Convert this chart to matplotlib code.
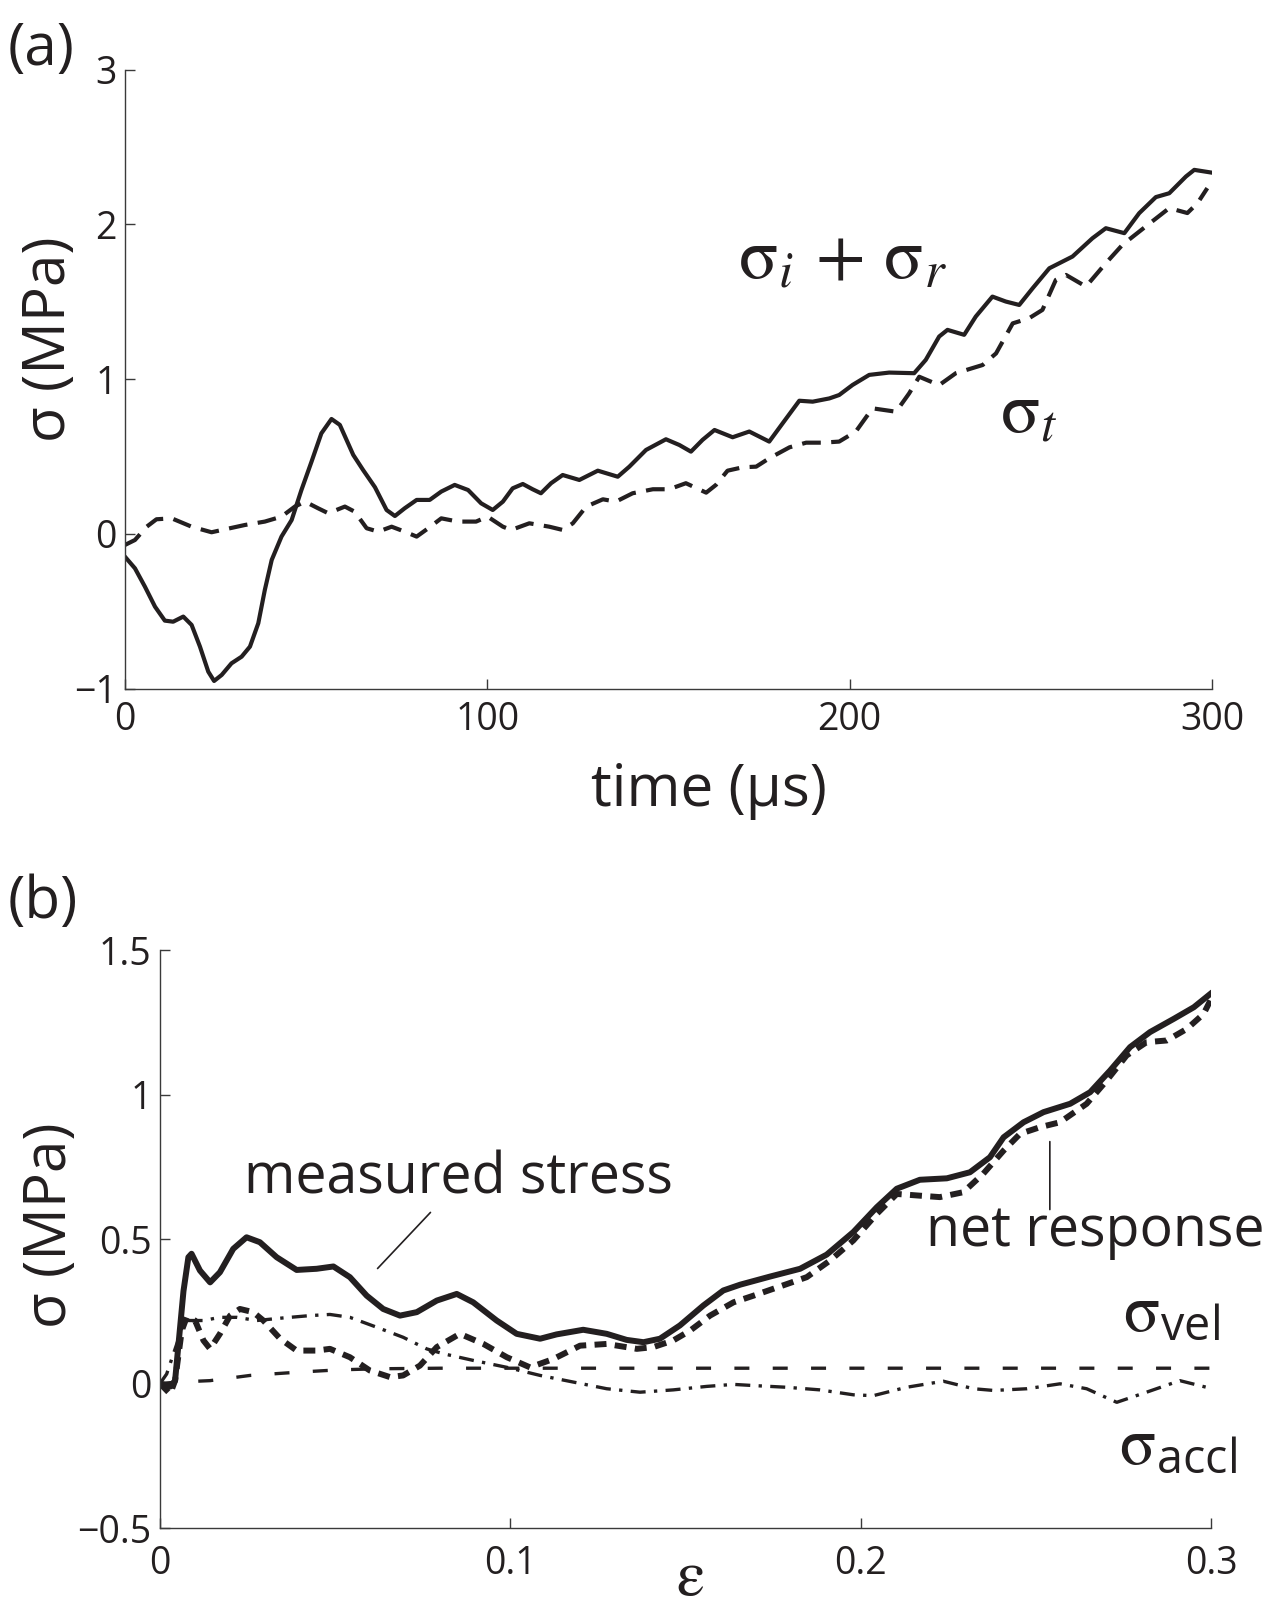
import matplotlib
matplotlib.use('Agg')
import matplotlib.pyplot as plt

# ---------------- data: panel (a) ----------------
t_sum = [0, 2.76, 5.5, 8.3, 11.0, 13.3, 16.1, 18.4, 20.7, 23.0, 24.6, 26.7, 29.4, 32.2, 34.5,
         36.8, 38.6, 40.5, 43.2, 46.0, 48.7, 51.5, 54.2, 57.0, 59.3, 63.0, 65.7, 69.0, 72.2,
         74.5, 77.2, 80.5, 84.1, 87.3, 91.0, 94.7, 98.3, 101.5, 104.3, 107.0, 109.8, 112.5,
         114.8, 117.6, 120.8, 125.4, 130.5, 136.0, 139.2, 143.8, 149.3, 153.0, 156.2, 159.4,
         162.7, 167.7, 172.3, 177.8, 181.5, 186.1, 189.8, 194.4, 197.1, 200.8, 205.4, 210.9,
         217.8, 221.0, 224.7, 227.0, 231.6, 234.8, 239.4, 243.1, 246.8, 250.5, 255.1, 261.5,
         267.0, 270.7, 275.8, 279.9, 284.5, 288.2, 292.8, 295.1, 299.7]
s_sum = [-0.147, -0.222, -0.34, -0.47, -0.56, -0.567, -0.534, -0.588, -0.728, -0.890, -0.95,
         -0.911, -0.836, -0.793, -0.728, -0.577, -0.362, -0.168, -0.017, 0.090, 0.284, 0.468,
         0.650, 0.743, 0.705, 0.511, 0.414, 0.302, 0.155, 0.116, 0.166, 0.220, 0.220, 0.274,
         0.317, 0.284, 0.198, 0.155, 0.209, 0.295, 0.323, 0.289, 0.263, 0.328, 0.381, 0.349,
         0.409, 0.370, 0.435, 0.543, 0.612, 0.575, 0.532, 0.608, 0.672, 0.625, 0.662, 0.597,
         0.715, 0.861, 0.855, 0.876, 0.898, 0.963, 1.028, 1.043, 1.039, 1.125, 1.276, 1.319,
         1.287, 1.405, 1.534, 1.502, 1.480, 1.588, 1.717, 1.793, 1.911, 1.976, 1.944, 2.073,
         2.177, 2.202, 2.310, 2.353, 2.336]

t_trans = [0, 2.76, 6.0, 8.7, 12.9, 18.4, 23.9, 27.6, 33.1, 38.6, 43.2, 46.9, 49.7, 53.3,
           56.1, 60.7, 63.4, 66.7, 69.9, 73.6, 77.2, 80.5, 83.7, 87.3, 91.9, 96.9, 100.1,
           104.3, 106.6, 111.6, 117.1, 120.8, 123.6, 127.3, 131.9, 135.5, 140.1, 145.7, 150.2,
           154.8, 160.4, 163.1, 166.3, 170.5, 174.2, 177.8, 183.4, 188.0, 192.5, 197.1, 201.7,
           206.3, 212.8, 216.4, 219.2, 224.7, 229.3, 236.7, 240.4, 245.0, 249.5, 253.2, 256.9,
           259.7, 265.2, 270.7, 275.3, 281.7, 288.2, 293.2, 296.0, 298.7]
s_trans = [-0.071, -0.039, 0.047, 0.095, 0.101, 0.047, 0.011, 0.030, 0.058, 0.080, 0.112,
           0.177, 0.209, 0.166, 0.134, 0.177, 0.144, 0.037, 0.015, 0.047, 0.015, -0.017,
           0.037, 0.101, 0.080, 0.080, 0.112, 0.047, 0.026, 0.069, 0.047, 0.026, 0.069, 0.177,
           0.224, 0.209, 0.263, 0.289, 0.289, 0.328, 0.267, 0.317, 0.409, 0.431, 0.435, 0.489,
           0.560, 0.590, 0.590, 0.597, 0.662, 0.812, 0.790, 0.908, 1.016, 0.962, 1.039, 1.092,
           1.167, 1.361, 1.394, 1.448, 1.642, 1.674, 1.599, 1.750, 1.869, 1.987, 2.106, 2.074,
           2.138, 2.235]

a_xticks = [0, 100, 200, 300]
a_xticklabels = ['0', '100', '200', '300']
a_yticks = [-1, 0, 1, 2, 3]
a_yticklabels = ['\u22121', '0', '1', '2', '3']

# ---------------- data: panel (b) ----------------
e_meas = [0, 0.003, 0.0043, 0.0052, 0.0067, 0.0081, 0.009, 0.0114, 0.0143, 0.0171, 0.0209,
          0.0247, 0.0285, 0.0333, 0.039, 0.0447, 0.0495, 0.0542, 0.059, 0.0637, 0.0685,
          0.0733, 0.079, 0.0847, 0.0894, 0.0961, 0.1018, 0.1085, 0.1132, 0.1208, 0.1275,
          0.1332, 0.138, 0.1427, 0.1484, 0.1551, 0.1608, 0.1656, 0.1741, 0.1827, 0.1903,
          0.1979, 0.2046, 0.2103, 0.2169, 0.2246, 0.2312, 0.2369, 0.2408, 0.2465, 0.2522,
          0.2598, 0.2655, 0.2712, 0.2769, 0.2826, 0.2894, 0.2951, 0.2998]
s_meas = [0.0, -0.01, 0.01, 0.126, 0.32, 0.437, 0.449, 0.391, 0.35, 0.385, 0.466, 0.506,
          0.489, 0.437, 0.393, 0.397, 0.405, 0.368, 0.304, 0.258, 0.235, 0.247, 0.287, 0.310,
          0.281, 0.218, 0.172, 0.155, 0.170, 0.186, 0.172, 0.151, 0.143, 0.155, 0.201, 0.270,
          0.322, 0.342, 0.370, 0.397, 0.446, 0.524, 0.610, 0.674, 0.705, 0.710, 0.731, 0.783,
          0.852, 0.904, 0.939, 0.968, 1.008, 1.083, 1.164, 1.216, 1.262, 1.302, 1.348]

e_net = [0, 0.0029, 0.0043, 0.0062, 0.0076, 0.01, 0.0124, 0.0143, 0.0171, 0.02, 0.0228,
         0.0266, 0.0295, 0.0343, 0.039, 0.0447, 0.0485, 0.0542, 0.0599, 0.0657, 0.0694,
         0.0742, 0.079, 0.0856, 0.0923, 0.099, 0.1056, 0.1123, 0.1199, 0.1275, 0.1361,
         0.1408, 0.1465, 0.1513, 0.157, 0.1637, 0.1694, 0.177, 0.1846, 0.1913, 0.1979,
         0.2046, 0.2103, 0.2169, 0.2226, 0.2293, 0.235, 0.2408, 0.2455, 0.2512, 0.2569,
         0.2645, 0.2702, 0.2759, 0.2816, 0.2874, 0.2931, 0.2979, 0.2998]
s_net = [0.0, -0.036, 0.01, 0.183, 0.229, 0.218, 0.149, 0.12, 0.172, 0.235, 0.258, 0.247,
         0.218, 0.155, 0.114, 0.114, 0.12, 0.091, 0.045, 0.022, 0.028, 0.062, 0.126, 0.172,
         0.137, 0.091, 0.056, 0.085, 0.131, 0.137, 0.12, 0.126, 0.149, 0.183, 0.235, 0.281,
         0.304, 0.336, 0.368, 0.426, 0.495, 0.587, 0.656, 0.650, 0.645, 0.662, 0.726, 0.806,
         0.864, 0.887, 0.904, 0.968, 1.048, 1.135, 1.181, 1.187, 1.227, 1.279, 1.325]

e_vel = [0, 0.005, 0.0143, 0.0257, 0.039, 0.0504, 0.0618, 0.08, 0.3]
s_vel = [0.0, 0.005, 0.01, 0.028, 0.039, 0.047, 0.051, 0.053, 0.053]

e_accl = [0, 0.0019, 0.0067, 0.0076, 0.0124, 0.0171, 0.0219, 0.0276, 0.0352, 0.0428,
          0.0485, 0.0542, 0.0618, 0.0694, 0.0761, 0.0809, 0.0894, 0.099, 0.1085, 0.118,
          0.1275, 0.137, 0.1465, 0.156, 0.1637, 0.1694, 0.1789, 0.1884, 0.1979, 0.2036,
          0.2131, 0.2236, 0.2322, 0.238, 0.2475, 0.2569, 0.2645, 0.2731, 0.2816, 0.2911,
          0.2987]
s_accl = [0.0, 0.033, 0.206, 0.218, 0.218, 0.229, 0.229, 0.218, 0.227, 0.235, 0.239, 0.229,
          0.195, 0.160, 0.120, 0.103, 0.080, 0.056, 0.028, 0.005, -0.018, -0.030, -0.022,
          -0.010, -0.003, -0.007, -0.013, -0.022, -0.039, -0.042, -0.013, 0.008, -0.018,
          -0.024, -0.018, -0.001, -0.018, -0.065, -0.030, 0.010, -0.013]

b_xticks = [0, 0.1, 0.2, 0.3]
b_xticklabels = ['0', '0.1', '0.2', '0.3']
b_yticks = [-0.5, 0, 0.5, 1, 1.5]
b_yticklabels = ['\u22120.5', '0', '0.5', '1', '1.5']

# leader lines for annotations (from text toward curve)
meas_leader = [(0.0772, 0.592), (0.0621, 0.398)]
net_leader = [(0.254, 0.602), (0.254, 0.837)]

# ---------------- styling ----------------
plt.rcParams['font.family'] = ['Open Sans', 'DejaVu Sans']
plt.rcParams['mathtext.fontset'] = 'custom'
plt.rcParams['mathtext.rm'] = 'STIXGeneral'
plt.rcParams['mathtext.it'] = 'STIXGeneral:italic'
plt.rcParams['mathtext.bf'] = 'STIXGeneral:bold'
plt.rcParams['mathtext.sf'] = 'Open Sans'
INK = '#231f20'
SPINE = '#3a3a3a'

fig = plt.figure(figsize=(12.75, 16.11), dpi=100)
axa = fig.add_axes([0.098, 0.5725, 0.8526, 0.3842])
axb = fig.add_axes([0.1255, 0.0515, 0.8243, 0.3588])

for ax in (axa, axb):
    ax.spines['top'].set_visible(False)
    ax.spines['right'].set_visible(False)
    for s in ('left', 'bottom'):
        ax.spines[s].set_color(SPINE)
        ax.spines[s].set_linewidth(1.0)
    ax.tick_params(direction='in', length=7, width=1.0, color=SPINE,
                   labelsize=27, labelcolor=INK)
    ax.tick_params(axis='y', pad=6)
    ax.tick_params(axis='x', pad=9)

# ---- panel (a) ----
axa.plot(t_sum, s_sum, color=INK, lw=3.0, solid_joinstyle='round')
axa.plot(t_trans, s_trans, color=INK, lw=3.0, linestyle=(0, (4.5, 2.5)))
axa.set_xlim(0, 300)
axa.set_ylim(-1, 3)
axa.set_xticks(a_xticks, a_xticklabels)
axa.set_yticks(a_yticks, a_yticklabels)
axa.set_xlabel('time (\u00b5s)', fontsize=42, color=INK)
axa.xaxis.set_label_coords(0.537, -0.118)
axa.set_ylabel('\u03c3 (MPa)', fontsize=42, color=INK)
axa.yaxis.set_label_coords(-0.042, 0.565)
axa.text(169.3, 1.656, r'$\mathrm{\sigma}_i\,+\,\mathrm{\sigma}_r$', fontsize=52, color=INK,
         ha='left', va='baseline')
axa.text(241.4, 0.662, r'$\mathrm{\sigma}_t$', fontsize=52, color=INK,
         ha='left', va='baseline')
fig.text(0.006, 0.987, '(a)', fontsize=42, color=INK, ha='left', va='top')

# ---- panel (b) ----
axb.plot(e_vel, s_vel, color=INK, lw=2.4, linestyle=(0, (4.5, 7)))
axb.plot(e_accl, s_accl, color=INK, lw=2.4, linestyle=(0, (4.5, 2.5, 1, 2.5)))
axb.plot(e_net, s_net, color=INK, lw=4.3, linestyle=(0, (2.0, 1.4)))
axb.plot(e_meas, s_meas, color=INK, lw=4.3, solid_joinstyle='round')
axb.set_xlim(0, 0.3)
axb.set_ylim(-0.5, 1.5)
axb.set_xticks(b_xticks, b_xticklabels)
axb.set_yticks(b_yticks, b_yticklabels)
axb.tick_params(axis='x', pad=12)
axb.set_xlabel(r'$\mathrm{\varepsilon}$', fontsize=46, color=INK)
axb.xaxis.label.set_va('baseline')
axb.xaxis.set_label_coords(0.504, -0.116)
axb.set_ylabel('\u03c3 (MPa)', fontsize=42, color=INK)
axb.yaxis.set_label_coords(-0.076, 0.524)

axb.text(0.0853, 0.657, 'measured stress', fontsize=40, color=INK, ha='center', va='baseline')
axb.annotate('', xy=meas_leader[1], xytext=meas_leader[0],
             arrowprops=dict(arrowstyle='-', lw=1.2, color=INK, shrinkA=0, shrinkB=0))
axb.text(0.267, 0.477, 'net response', fontsize=40, color=INK, ha='center', va='baseline',
         clip_on=False)
axb.annotate('', xy=net_leader[1], xytext=net_leader[0],
             arrowprops=dict(arrowstyle='-', lw=1.2, color=INK, shrinkA=0, shrinkB=0))
axb.text(0.2749, 0.183, r'$\mathrm{\sigma}_{\mathsf{vel}}$', fontsize=48, color=INK,
         ha='left', va='baseline', clip_on=False)
axb.text(0.2737, -0.277, r'$\mathrm{\sigma}_{\mathsf{accl}}$', fontsize=48, color=INK,
         ha='left', va='baseline', clip_on=False)
fig.text(0.006, 0.458, '(b)', fontsize=42, color=INK, ha='left', va='top')

fig.savefig('out.png', dpi=100)
